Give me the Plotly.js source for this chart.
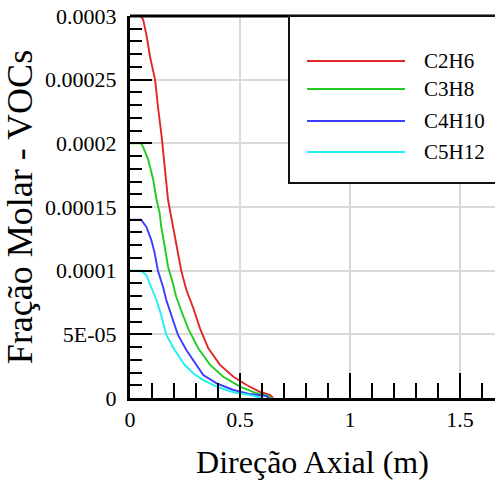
<!DOCTYPE html>
<html>
<head>
<meta charset="utf-8">
<script src="https://cdn.plot.ly/plotly-3.0.1.min.js"></script>
<style>html,body{margin:0;padding:0;background:#fff;}#chart{width:495px;height:486px;}</style>
</head>
<body>
<div id="chart"></div>
<script>
// Series names and colours
const seriesNames = ["C2H6", "C3H8", "C4H10", "C5H12"];
const seriesColors = ["#e32626", "#1fcc1f", "#3c3cff", "#1ef0f0"];

// Axial position (m) and molar fraction for each series
const xC2H6 = [0, 0.05, 0.06, 0.076, 0.091, 0.114, 0.129, 0.144, 0.173, 0.195, 0.218, 0.233, 0.256, 0.288, 0.318, 0.356, 0.409, 0.47, 0.53, 0.59, 0.636, 0.65];
const yC2H6 = [3.0e-4, 3.0e-4, 2.97e-4, 2.84e-4, 2.68e-4, 2.5e-4, 2.26e-4, 2.05e-4, 1.555e-4, 1.345e-4, 1.14e-4, 1.0e-4, 8.5e-5, 7.05e-5, 5.47e-5, 3.9e-5, 2.6e-5, 1.67e-5, 1.02e-5, 4.9e-6, 2.4e-6, 0];

const xC3H8 = [0, 0.05, 0.06, 0.083, 0.106, 0.121, 0.135, 0.142, 0.158, 0.173, 0.195, 0.21, 0.241, 0.264, 0.31, 0.364, 0.424, 0.5, 0.576, 0.63, 0.64];
const yC3H8 = [2.0e-4, 2.0e-4, 1.97e-4, 1.87e-4, 1.71e-4, 1.555e-4, 1.45e-4, 1.345e-4, 1.19e-4, 1.03e-4, 9.0e-5, 7.95e-5, 6.5e-5, 5.47e-5, 3.9e-5, 2.6e-5, 1.67e-5, 8.9e-6, 3.7e-6, 1.6e-6, 0];

const xC4H10 = [0, 0.05, 0.074, 0.097, 0.112, 0.127, 0.15, 0.165, 0.188, 0.218, 0.256, 0.29, 0.333, 0.394, 0.47, 0.545, 0.62, 0.63];
const yC4H10 = [1.4e-4, 1.4e-4, 1.345e-4, 1.24e-4, 1.14e-4, 1.0e-4, 8.74e-5, 7.7e-5, 6.5e-5, 4.95e-5, 3.77e-5, 2.9e-5, 1.8e-5, 1.15e-5, 6.3e-6, 3.1e-6, 1.6e-6, 0];

const xC5H12 = [0, 0.05, 0.074, 0.097, 0.12, 0.142, 0.165, 0.203, 0.249, 0.29, 0.333, 0.394, 0.47, 0.545, 0.6];
const yC5H12 = [1.0e-4, 1.0e-4, 9.66e-5, 8.74e-5, 7.7e-5, 6.5e-5, 4.95e-5, 3.77e-5, 2.59e-5, 1.9e-5, 1.41e-5, 8.9e-6, 4.5e-6, 2.4e-6, 0];

// Tick labels
const xTickVals = [0, 0.5, 1, 1.5];
const xTickText = ["0", "0.5", "1", "1.5"];
const yTickVals = [0, 0.00005, 0.0001, 0.00015, 0.0002, 0.00025, 0.0003];
const yTickText = ["0", "5E-05", "0.0001", "0.00015", "0.0002", "0.00025", "0.0003"];

const xs = [xC2H6, xC3H8, xC4H10, xC5H12];
const ys = [yC2H6, yC3H8, yC4H10, yC5H12];

const FONT = "Times New Roman, Liberation Serif, DejaVu Serif, serif";

const traces = seriesNames.map((n, i) => ({
  type: "scatter", mode: "lines", name: n,
  x: xs[i], y: ys[i],
  line: {color: seriesColors[i], width: 1.9},
  showlegend: false, hoverinfo: "skip"
}));

// Manual legend (box + sample lines + labels) in paper coordinates
const shapes = [
  {type: "line", xref: "paper", yref: "paper", x0: 0, x1: 1, y0: 1, y1: 1, line: {color: "black", width: 3}, layer: "above"},
  {type: "rect", xref: "paper", yref: "paper", x0: 0.4356, x1: 1.05, y0: 0.5628, y1: 1, line: {color: "#111", width: 2}, fillcolor: "white", layer: "above"}
];
const annotations = [];
const legendY = [0.882, 0.809, 0.725, 0.644];
seriesNames.forEach((n, i) => {
  shapes.push({type: "line", xref: "paper", yref: "paper", x0: 0.485, x1: 0.7534, y0: legendY[i], y1: legendY[i], line: {color: seriesColors[i], width: 2}, layer: "above"});
  annotations.push({xref: "paper", yref: "paper", x: 0.8, y: legendY[i], xanchor: "left", yanchor: "middle", text: n, showarrow: false, font: {family: FONT, size: 21, color: "black"}});
});

const layout = {
  width: 495, height: 486,
  margin: {l: 130, r: 0, t: 16, b: 88},
  paper_bgcolor: "white", plot_bgcolor: "white",
  font: {family: FONT, color: "black"},
  showlegend: false,
  xaxis: {
    range: [0, 1.659], tickvals: xTickVals, ticktext: xTickText,
    ticks: "inside", ticklen: 25, tickwidth: 2, tickcolor: "black",
    showline: true, linecolor: "black", linewidth: 3,
    showgrid: true, gridcolor: "#d9d9d9", gridwidth: 2, zeroline: false,
    tickfont: {family: FONT, size: 22, color: "black"},
    ticklabelstandoff: 0,
    minor: {dtick: 0.1, tick0: 0, ticks: "inside", ticklen: 15, tickwidth: 2, tickcolor: "black", showgrid: false},
    title: {text: "Direção Axial (m)", font: {family: FONT, size: 32, color: "black"}, standoff: 20}
  },
  yaxis: {
    range: [0, 0.0003], tickvals: yTickVals, ticktext: yTickText,
    ticks: "inside", ticklen: 22, tickwidth: 2, tickcolor: "black",
    showline: true, linecolor: "black", linewidth: 3,
    showgrid: true, gridcolor: "#d9d9d9", gridwidth: 2, zeroline: false,
    tickfont: {family: FONT, size: 22, color: "black"},
    ticklabelstandoff: 6,
    minor: {dtick: 0.00001, tick0: 0, ticks: "inside", ticklen: 12, tickwidth: 2, tickcolor: "black", showgrid: false},
    title: {text: "Fração Molar - VOCs", font: {family: FONT, size: 36, color: "black"}, standoff: 2}
  },
  shapes: shapes,
  annotations: annotations
};

Plotly.newPlot("chart", traces, layout, {staticPlot: true, displayModeBar: false});
</script>
</body>
</html>
